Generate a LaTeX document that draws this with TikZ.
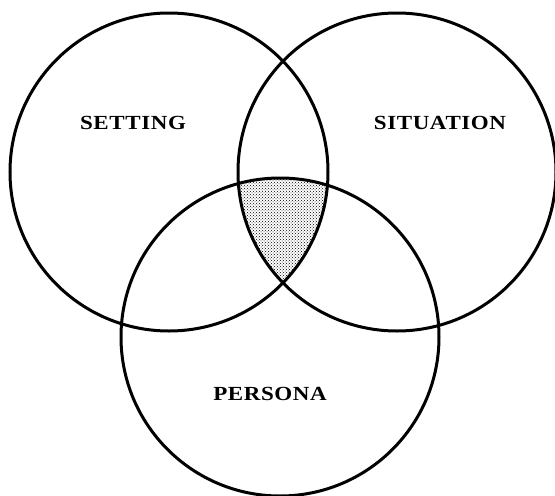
\documentclass[tikz,border=0pt]{standalone}
\usepackage{fontspec}
\newfontfamily\lblfont[FakeStretch=1.15,LetterSpace=3]{Liberation Serif}
\usepackage{tikz}
\usetikzlibrary{patterns}
\tikzset{
  ring/.style={draw, line width=3pt},
  core/.style={pattern=crosshatch dots, pattern color=black},
  lbl/.style={font=\lblfont\bfseries\fontsize{20}{20}\selectfont, inner sep=0pt},
}

\begin{document}
\begin{tikzpicture}[x=1pt,y=-1pt]
    \useasboundingbox (0,0) rectangle (555,496);
    \coordinate (cset) at (169,172);
    \coordinate (csit) at (397,172);
    \coordinate (cper) at (280,337);
    % shared region of all three
    \begin{scope}
      \clip (cset) circle[radius=159pt];
      \clip (csit) circle[radius=159pt];
      \fill[core] (cper) circle[radius=159pt];
    \end{scope}
    \draw[ring] (cset) circle[radius=159pt];
    \draw[ring] (csit) circle[radius=159pt];
    \draw[ring] (cper) circle[radius=159pt];
    \node[lbl] (setting) at (133,123) {SETTING};
    \node[lbl] (situation) at (440,123) {SITUATION};
    \node[lbl] (persona) at (270,394) {PERSONA};
  \end{tikzpicture}
\end{document}
